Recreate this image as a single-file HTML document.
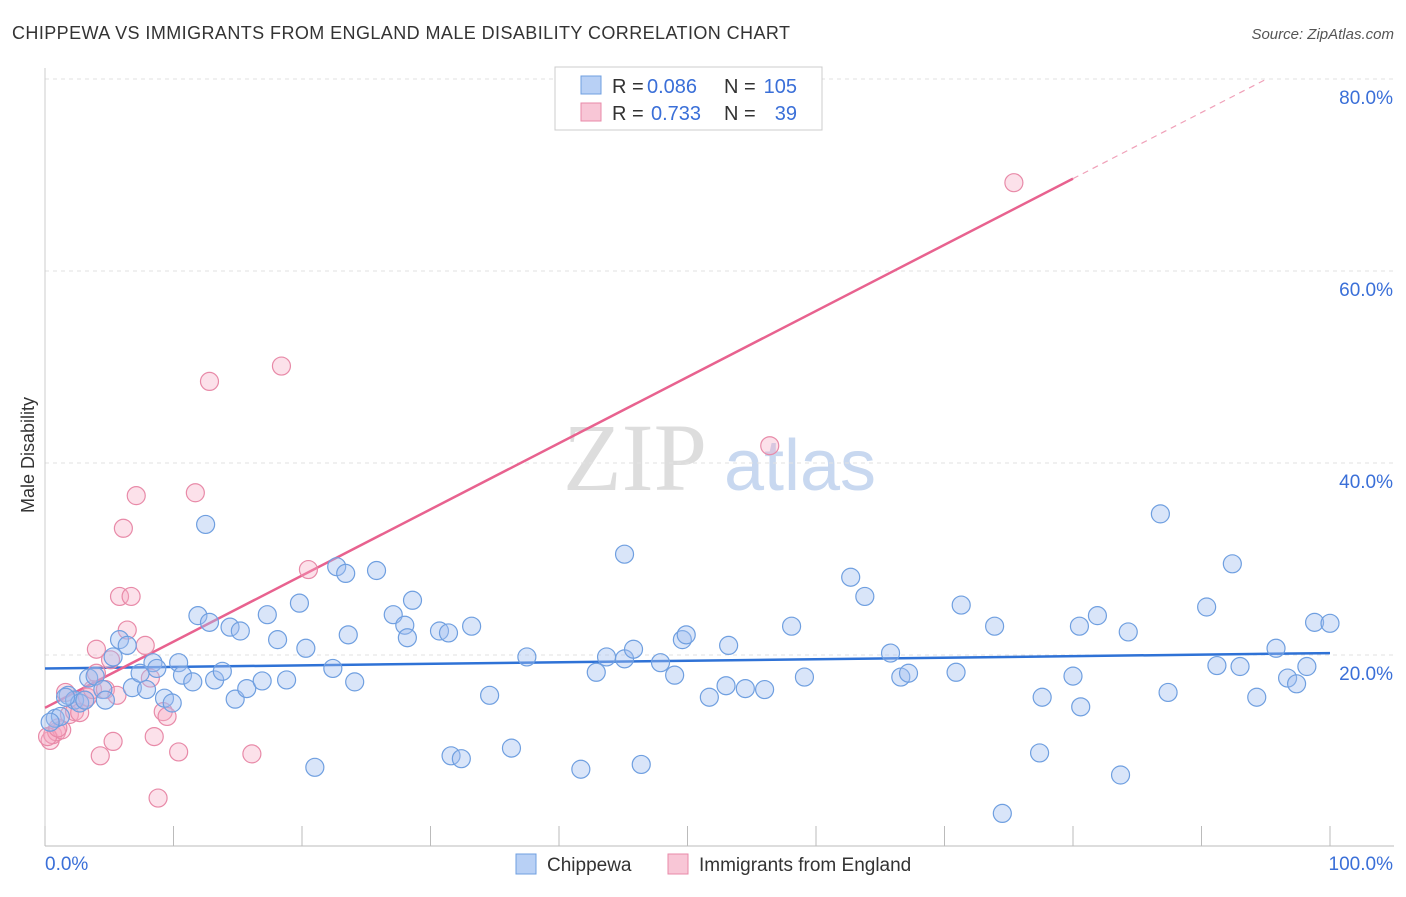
<!DOCTYPE html>
<html><head><meta charset="utf-8"><style>
body{margin:0;background:#fff;font-family:"Liberation Sans",sans-serif}
</style></head><body>
<svg id="chart" width="1406" height="892" xmlns="http://www.w3.org/2000/svg" font-family="Liberation Sans, sans-serif">
<text x="12" y="39" font-size="18" fill="#333" textLength="778">CHIPPEWA VS IMMIGRANTS FROM ENGLAND MALE DISABILITY CORRELATION CHART</text>
<text x="1394" y="39" font-size="15" fill="#555" text-anchor="end" font-style="italic">Source: ZipAtlas.com</text>
<text x="34" y="455" font-size="18" fill="#333" text-anchor="middle" transform="rotate(-90 34 455)">Male Disability</text>
<g><text x="635" y="490" font-size="96" fill="#ddd" text-anchor="middle" font-family="Liberation Serif, serif">ZIP</text><text x="800" y="490" font-size="72" fill="#c8d8f0" text-anchor="middle">atlas</text></g>
<g id="grid"></g><g id="axes"></g><g id="lines"></g><g id="pts"></g>
<g>
<rect x="555" y="67" width="267" height="63" fill="#fff" stroke="#ccc"/>
<rect x="581" y="76" width="20" height="18" fill="#b8d0f5" stroke="#6f9fe0"/>
<rect x="581" y="103" width="20" height="18" fill="#f8c6d6" stroke="#e88aa8"/>
<text x="612" y="93" font-size="20" fill="#333">R =</text>
<text x="647" y="93" font-size="20" fill="#3a6fd8">0.086</text>
<text x="724" y="93" font-size="20" fill="#333">N =</text>
<text x="797" y="93" font-size="20" fill="#3a6fd8" text-anchor="end">105</text>
<text x="612" y="120" font-size="20" fill="#333">R =</text>
<text x="651" y="120" font-size="20" fill="#3a6fd8">0.733</text>
<text x="724" y="120" font-size="20" fill="#333">N =</text>
<text x="797" y="120" font-size="20" fill="#3a6fd8" text-anchor="end">39</text>
</g>
<g>
<rect x="516" y="854" width="20" height="20" fill="#b8d0f5" stroke="#6f9fe0"/>
<text x="547" y="871" font-size="19" fill="#333">Chippewa</text>
<rect x="668" y="854" width="20" height="20" fill="#f8c6d6" stroke="#e88aa8"/>
<text x="699" y="871" font-size="19" fill="#333">Immigrants from England</text>
</g>
</svg>
<script>
const blueX=[0.8,1.2,1.8,2.3,2.7,3.4,3.9,4.5,4.7,5.3,5.8,6.4,6.8,7.4,7.9,8.4,8.7,9.3,9.9,10.4,10.7,11.5,11.9,12.5,12.8,13.2,13.8,14.4,15.2,14.8,15.7,16.9,17.3,18.1,18.8,19.8,20.3,21.0,22.4,22.7,23.4,23.6,24.1,25.8,27.1,28.0,28.2,28.6,30.7,31.4,31.6,32.4,33.2,34.6,36.3,37.5,41.7,42.9,43.7,45.1,45.1,45.8,46.4,47.9,49.0,49.6,49.9,51.7,53.0,53.2,54.5,56.0,58.1,59.1,62.7,63.8,65.8,66.6,67.2,70.9,71.3,73.9,74.5,77.4,77.6,80.0,80.5,80.6,81.9,83.7,84.3,86.8,87.4,90.4,91.2,92.4,93.0,94.3,95.8,96.7,97.4,98.2,98.8,100,0.4,3.1,1.6];
const blueY=[13.4,13.6,15.8,15.3,15.0,17.6,17.8,16.4,15.3,19.8,21.6,21.0,16.6,18.1,16.4,19.2,18.6,15.5,15.0,19.2,17.9,17.2,24.1,33.6,23.4,17.4,18.3,22.9,22.5,15.4,16.5,17.3,24.2,21.6,17.4,25.4,20.7,8.3,18.6,29.2,28.5,22.1,17.2,28.8,24.2,23.1,21.8,25.7,22.5,22.3,9.5,9.2,23.0,15.8,10.3,19.8,8.1,18.2,19.8,19.6,30.5,20.6,8.6,19.2,17.9,21.6,22.1,15.6,16.8,21.0,16.5,16.4,23.0,17.7,28.1,26.1,20.2,17.7,18.1,18.2,25.2,23.0,3.5,9.8,15.6,17.8,23.0,14.6,24.1,7.5,22.4,34.7,16.1,25.0,18.9,29.5,18.8,15.6,20.7,17.6,17.0,18.8,23.4,23.3,13.0,15.3,15.6];
const pinkX=[0.4,0.6,0.9,1.3,1.6,1.9,2.3,2.7,3.1,3.3,3.7,4.0,4.0,4.3,4.7,5.1,5.3,5.6,5.8,6.1,6.4,6.7,7.1,7.8,8.2,8.5,8.8,9.2,9.5,10.4,11.7,12.8,16.1,18.4,20.5,56.4,75.4,0.2,1.0];
const pinkY=[11.1,11.7,12.0,12.2,16.1,13.8,14.1,14.0,15.3,15.6,16.4,20.6,18.1,9.5,16.4,19.5,11.0,15.8,26.1,33.2,22.6,26.1,36.6,21.0,17.6,11.5,5.1,14.1,13.6,9.9,36.9,48.5,9.7,50.1,28.9,41.8,69.2,11.5,12.4];
const yTicks=[20,40,60,80];
const yTickLabels=["20.0%","40.0%","60.0%","80.0%"];
const xTicks=[0,10,20,30,40,50,60,70,80,90,100];
const blueFit=[18.6,20.2];
const pinkFit=[14.5,0.689];
const NS="http://www.w3.org/2000/svg";
const sx=v=>45+v*12.85, sy=v=>847-v*9.6;
function mk(tag,attrs,parent){const e=document.createElementNS(NS,tag);for(const k in attrs)e.setAttribute(k,attrs[k]);parent.appendChild(e);return e;}
const grid=document.getElementById('grid'),axes=document.getElementById('axes'),lines=document.getElementById('lines'),pts=document.getElementById('pts');
yTicks.forEach((t,i)=>{
 const l=mk('line',{x1:45,x2:1394,y1:sy(t),y2:sy(t),stroke:'#e2e2e2','stroke-dasharray':'4,4'},grid);
 
 
 const tx=mk('text',{x:1393,y:sy(t)+25,'font-size':19,fill:'#3a6fd8','text-anchor':'end'},axes);
 tx.textContent=yTickLabels[i];
 
 
});
const xa=mk('line',{x1:45,x2:1394,y1:846,y2:846,stroke:'#bbb'},axes);


const ya=mk('line',{x1:45,x2:45,y1:68,y2:846,stroke:'#ccc'},axes);


xTicks.forEach(t=>{const l=mk('line',{x1:sx(t),x2:sx(t),y1:826,y2:846,stroke:'#bbb'},axes);
 
 });
const x0=mk('text',{x:45,y:870,'font-size':19,fill:'#3a6fd8'},axes);x0.textContent='0.0%';


const x1=mk('text',{x:1393,y:870,'font-size':19,fill:'#3a6fd8','text-anchor':'end'},axes);x1.textContent='100.0%';


function dots(X,Y,fill,stroke,name){X.forEach((x,i)=>{const c=mk('circle',{cx:sx(x),cy:sy(Y[i]),r:9,fill:fill,stroke:stroke,'stroke-width':1.2},pts);
 
 });}
dots(pinkX,pinkY,'rgba(245,170,195,0.35)','#e88aa8','england-point');
dots(blueX,blueY,'rgba(160,190,240,0.4)','#6f9fe0','chippewa-point');
const bl=mk('line',{x1:sx(0),y1:sy(blueFit[0]),x2:sx(100),y2:sy(blueFit[1]),stroke:'#2f72d6','stroke-width':2.5},lines);


const pf=x=>pinkFit[0]+pinkFit[1]*x;
const pl=mk('line',{x1:sx(0),y1:sy(pf(0)),x2:sx(80),y2:sy(pf(80)),stroke:'#e8628f','stroke-width':2.5},lines);


const pd=mk('line',{x1:sx(80),y1:sy(pf(80)),x2:sx(95),y2:sy(pf(95)),stroke:'#f0a0b8','stroke-width':1.2,'stroke-dasharray':'6,5'},lines);


</script>
</body></html>
